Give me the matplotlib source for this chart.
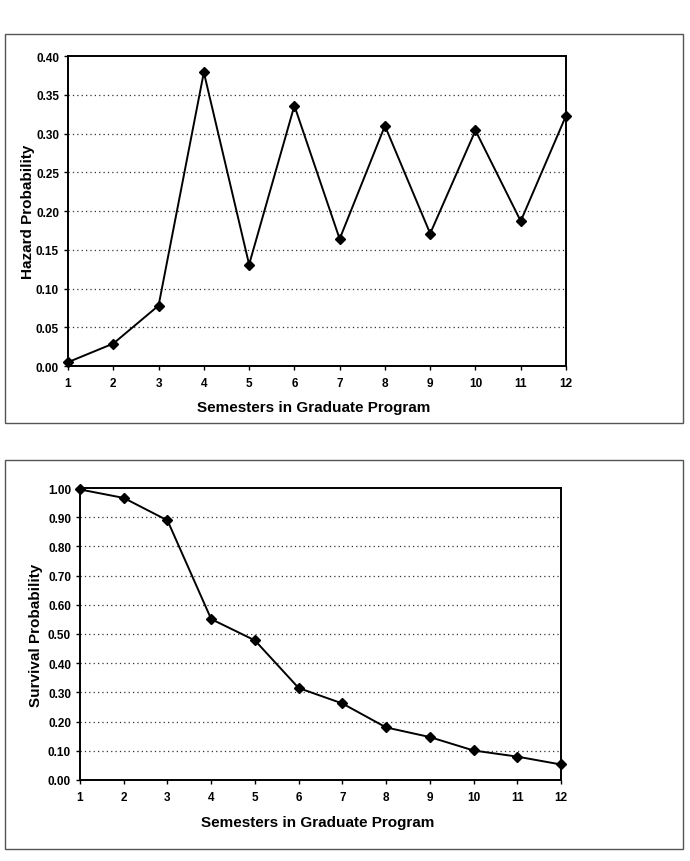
import numpy as np
import matplotlib.pyplot as plt
from matplotlib.patches import Rectangle
from matplotlib.ticker import MultipleLocator, FormatStrFormatter

semesters = [1, 2, 3, 4, 5, 6, 7, 8, 9, 10, 11, 12]
hazard = [0.005, 0.029, 0.078, 0.379, 0.131, 0.336, 0.164, 0.310, 0.171, 0.304, 0.187, 0.323]
survival = [0.995, 0.966, 0.889, 0.551, 0.478, 0.315, 0.262, 0.180, 0.147, 0.101, 0.080, 0.053]

plt.rcParams['font.family'] = ['Liberation Sans', 'DejaVu Sans']
plt.rcParams['font.weight'] = 'bold'

fig = plt.figure(figsize=(6.9, 8.62), dpi=100)

# outer frames around each panel
for y0 in [0.5081, 0.0139]:
    fig.patches.append(Rectangle((0.0072, y0), 0.9826, 0.451, transform=fig.transFigure,
                                 fill=False, edgecolor='#555555', linewidth=1.0))


def draw_panel(ax, y, ymax, step, ylabel, ylab_x, xlab_y):
    ax.plot(semesters, y, color='black', linewidth=1.4, marker='D', markersize=5,
            clip_on=False, zorder=3)
    ax.set_xlim(1, 12)
    ax.set_ylim(0, ymax)
    ax.set_xticks(semesters)
    ax.yaxis.set_major_locator(MultipleLocator(step))
    ax.yaxis.set_major_formatter(FormatStrFormatter('%.2f'))
    for v in np.arange(step, ymax - step / 2, step):
        ax.axhline(v, color='#333333', linestyle=(0, (1, 2.5)), linewidth=0.9, zorder=1)
    for s in ax.spines.values():
        s.set_linewidth(1.4)
    ax.tick_params(axis='both', labelsize=8.5, direction='out', length=3, width=1.0)
    ax.tick_params(axis='x', pad=5)
    ax.set_xlabel('Semesters in Graduate Program', fontsize=11, fontweight='bold')
    ax.set_ylabel(ylabel, fontsize=11, fontweight='bold')
    ax.yaxis.set_label_coords(ylab_x, 0.5)
    ax.yaxis.label.set_verticalalignment('center')
    ax.xaxis.set_label_coords(0.494, xlab_y)
    ax.xaxis.label.set_verticalalignment('center')


ax1 = fig.add_axes([0.0986, 0.5742, 0.7217, 0.3596])
draw_panel(ax1, hazard, 0.40, 0.05, 'Hazard Probability', -0.081, -0.132)

ax2 = fig.add_axes([0.116, 0.0940, 0.697, 0.3387])
draw_panel(ax2, survival, 1.00, 0.10, 'Survival Probability', -0.092, -0.144)

fig.savefig('out.png', dpi=100)
